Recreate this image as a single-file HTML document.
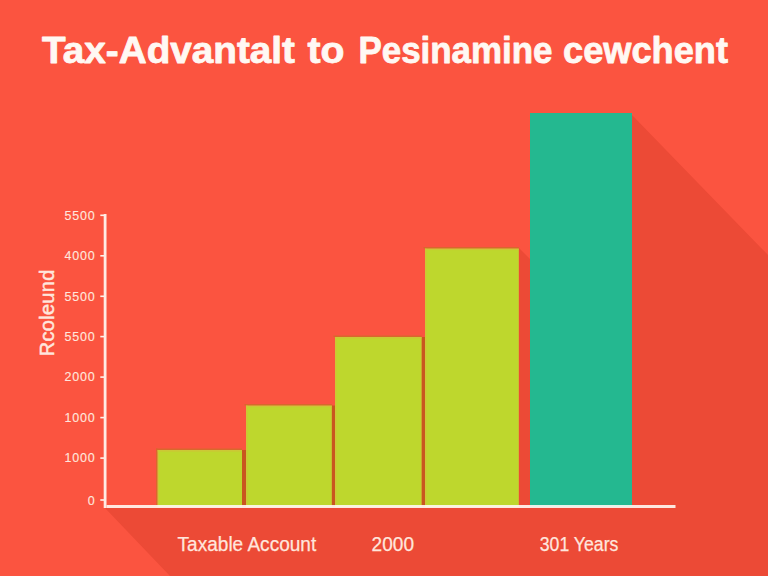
<!DOCTYPE html>
<html><head><meta charset="utf-8">
<style>
html,body{margin:0;padding:0;width:768px;height:576px;overflow:hidden;background:#FB5440}
svg{display:block}
.t{font-family:"Liberation Sans",sans-serif}
</style></head>
<body>
<svg width="768" height="576" viewBox="0 0 768 576">
  <rect x="0" y="0" width="768" height="576" fill="#FB5440"/>
  <!-- long shadows -->
  <polygon points="632,115 768,255 768,576 170,576 105,508 530,508 530,113" fill="#EC4A36"/>
  <polygon points="519,248 530,259 530,505 519,505" fill="#EC4A36"/>
  <!-- gaps between green bars -->
  <rect x="242" y="450" width="4" height="55" fill="#C9561F"/>
  <rect x="331.8" y="405.5" width="3.4" height="100" fill="#C9561F"/>
  <rect x="421.6" y="337" width="3.4" height="168" fill="#C9561F"/>
  <!-- green bars -->
  <rect x="157.5" y="450" width="84.5" height="57" fill="#BED72D"/>
  <rect x="246" y="405.5" width="85.8" height="101.5" fill="#BED72D"/>
  <rect x="335" y="337" width="86.6" height="170" fill="#BED72D"/>
  <rect x="425" y="248.5" width="93.8" height="258.5" fill="#BED72D"/>
  <!-- bar edge highlights -->
  <g fill="#D8682C">
    <rect x="156" y="448.5" width="86" height="1.5"/>
    <rect x="156" y="448.5" width="1.5" height="56.5"/>
    <rect x="244.5" y="404" width="87.3" height="1.5"/>
    <rect x="333.5" y="335.5" width="88.1" height="1.5"/>
    <rect x="423.5" y="247" width="95.3" height="1.5"/>
  </g>
  <g fill="#D2C23A" opacity="0.7">
    <rect x="157.5" y="450" width="84.5" height="1.6"/>
    <rect x="157.5" y="450" width="1.6" height="55"/>
    <rect x="246" y="405.5" width="85.8" height="1.6"/>
    <rect x="246" y="405.5" width="1.6" height="100"/>
    <rect x="335" y="337" width="86.6" height="1.6"/>
    <rect x="335" y="337" width="1.6" height="168"/>
    <rect x="425" y="248.5" width="93.8" height="1.6"/>
    <rect x="425" y="248.5" width="1.6" height="257"/>
  </g>
  <!-- teal bar -->
  <rect x="530" y="113" width="102" height="394" fill="#24B890"/>
  <!-- axes -->
  <rect x="103.7" y="214" width="2.8" height="294" fill="#FFF8F2" opacity="0.92"/>
  <rect x="106.5" y="505" width="569" height="3" fill="#FFF8F2" opacity="0.9"/>
  <g fill="#FFF1EA">
    <rect x="100.3" y="214.5" width="4" height="1.6"/>
    <rect x="100.3" y="255" width="4" height="1.6"/>
    <rect x="100.3" y="295.5" width="4" height="1.6"/>
    <rect x="100.3" y="335.8" width="4" height="1.6"/>
    <rect x="100.3" y="376.3" width="4" height="1.6"/>
    <rect x="100.3" y="416.8" width="4" height="1.6"/>
    <rect x="100.3" y="457.3" width="4" height="1.6"/>
    <rect x="100.3" y="499.2" width="4" height="1.6"/>
  </g>
  <!-- y labels -->
  <g class="t" font-size="12.5" fill="#FFE6DD" stroke="#FFE6DD" stroke-width="0.12" text-anchor="end" letter-spacing="0.8">
    <text x="95.5" y="219.8">5500</text>
    <text x="95.5" y="260">4000</text>
    <text x="95.5" y="300.5">5500</text>
    <text x="95.5" y="340.8">5500</text>
    <text x="95.5" y="381.2">2000</text>
    <text x="95.5" y="421.6">1000</text>
    <text x="95.5" y="462">1000</text>
    <text x="95.5" y="504.5">0</text>
  </g>
  <!-- y title -->
  <text class="t" font-size="20" fill="#FFE6DD" stroke="#FFE6DD" stroke-width="0.5" letter-spacing="0.3" transform="translate(54.4,356.3) rotate(-90)">Rcoleund</text>
  <!-- x labels -->
  <g class="t" font-size="20" fill="#FFE6DD" stroke="#FFE6DD" stroke-width="0.25">
    <text x="177.6" y="550.6" textLength="138.6" lengthAdjust="spacingAndGlyphs">Taxable Account</text>
    <text x="371.6" y="550.6" textLength="42.4" lengthAdjust="spacingAndGlyphs">2000</text>
    <text x="539.8" y="550.6" textLength="78.6" lengthAdjust="spacingAndGlyphs">301 Years</text>
  </g>
  <!-- title -->
  <g class="t" font-size="36.6" font-weight="bold" fill="#FFF8F3" stroke="#FFF8F3" stroke-width="0.8" stroke-linejoin="round">
    <text x="42" y="62.7" textLength="253" lengthAdjust="spacingAndGlyphs">Tax-Advantalt</text>
    <text x="307.5" y="62.7" textLength="37" lengthAdjust="spacingAndGlyphs">to</text>
    <text x="358.5" y="62.7" textLength="194" lengthAdjust="spacingAndGlyphs">Pesinamine</text>
    <text x="563" y="62.7" textLength="165" lengthAdjust="spacingAndGlyphs">cewchent</text>
  </g>
</svg>
</body></html>
